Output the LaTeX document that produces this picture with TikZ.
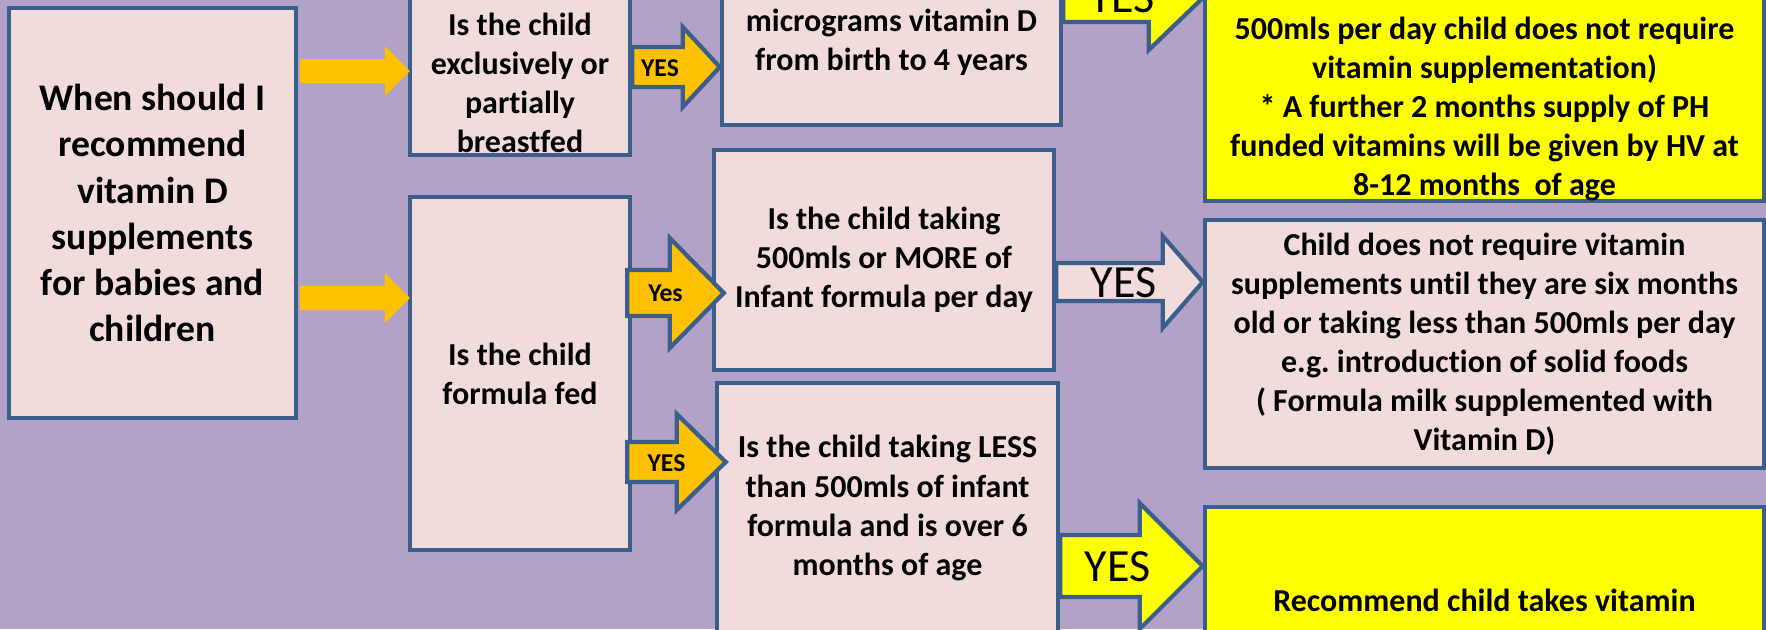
\documentclass[tikz,border=0pt]{standalone}
\usepackage{fontspec}
\setmainfont{Carlito}[Ligatures=NoCommon, Contextuals=NoAlternate]
\frenchspacing
\usetikzlibrary{calc}
\definecolor{bgpurple}{HTML}{B2A2C7}
\definecolor{boxpink}{HTML}{F2DCDB}
\definecolor{edgeblue}{HTML}{3B5E8A}
\definecolor{arroworange}{HTML}{FFC000}
\definecolor{arrowyellow}{HTML}{FFFF00}
\tikzset{
	box/.style={draw=edgeblue, line width=1.2pt, fill=boxpink, align=center, inner sep=0pt, font=\bfseries\fontsize{9.1}{11.1}\selectfont},
	yellowbox/.style={box, fill=arrowyellow},
	plainarrow/.style={fill=arroworange},
	orangearrow/.style={draw=edgeblue, line width=1.2pt, fill=arroworange},
	pinkarrow/.style={draw=edgeblue, line width=1.2pt, fill=boxpink},
	yellowarrow/.style={draw=edgeblue, line width=1.2pt, fill=arrowyellow},
	smallyes/.style={inner sep=0pt, font=\bfseries\fontsize{7.3}{8}\selectfont},
	bigyes/.style={inner sep=0pt, font=\fontsize{13.1}{14}\selectfont},
}
% #1 style, #2 from, #3 to, #4 shaft half, #5 head half, #6 head length
\newcommand{\fatarrow}[6]{%
	\path[#1] ($(#2)+(0,-#4)$) -- ($(#3)+(-#6,-#4)$) -- ($(#3)+(-#6,-#5)$) -- (#3) -- ($(#3)+(-#6,#5)$) -- ($(#3)+(-#6,#4)$) -- ($(#2)+(0,#4)$) -- cycle;}
\begin{document}
\begin{tikzpicture}[x=0.01cm, y=-0.01cm]
				\useasboundingbox (0,0) rectangle (1766,629);
				\fill[bgpurple] (0,0) rectangle (1766,629);
				\clip (0,0) rectangle (1766,629);
				\node[box, minimum width=2.87cm, minimum height=4.10cm, font=\bfseries\fontsize{10.7}{13.1}\selectfont] (A)at(152.5, 213) {When should I\\recommend\\vitamin D\\supplements\\for babies and\\children};
				\node[box, minimum width=2.20cm, minimum height=1.89cm] (B)at(520, 60.5) {\strut\\Is the child\\exclusively or\\partially\\breastfed};
				\node[box, minimum width=2.20cm, minimum height=3.53cm] (C)at(520, 373.5) {Is the child\\formula fed};
				\node[box, minimum width=3.39cm, minimum height=1.65cm] (D)at(891.5, 42.5) {micrograms vitamin D\\from birth to 4 years};
				\node[box, minimum width=3.40cm, minimum height=2.20cm] (F)at(884, 260) {Is the child taking\\500mls or MORE of\\Infant formula per day};
				\node[box, minimum width=3.41cm, minimum height=2.50cm] (H)at(887.5, 508) {Is the child taking LESS\\than 500mls of infant\\formula and is over 6\\months of age};
				\node[yellowbox, minimum width=5.59cm, minimum height=2.18cm] (E)at(1484.5, 87) {\strut\\500mls per day child does not require\\vitamin supplementation)\\* A further 2 months supply of PH\\funded vitamins will be given by HV at\\8-12 months~ of age};
				\node[box, minimum width=5.59cm, minimum height=2.48cm] (G)at(1484.5, 344) {Child does not require vitamin\\supplements until they are six months\\old or taking less than 500mls per day\\e.g. introduction of solid foods\\( Formula milk supplemented with\\Vitamin D)};
				\node[yellowbox, minimum width=5.59cm, minimum height=1.86cm] (I)at(1484.5, 600) {Recommend child takes vitamin};
				\coordinate (ab1) at ($(A.east |- 0,71)+(2,0)$);
				\coordinate (ab2) at ($(B.west |- 0,71)+(2,0)$);
				\coordinate (ac1) at ($(A.east |- 0,298)+(2,0)$);
				\coordinate (ac2) at ($(C.west |- 0,298)+(2,0)$);
				\coordinate (bd1) at (B.east |- 0,67);
				\coordinate (bd2) at (D.west |- 0,67);
				\coordinate (cf1) at ($(C.east |- 0,293)+(-5,0)$);
				\coordinate (cf2) at ($(F.west |- 0,293)+(12,0)$);
				\coordinate (ch1) at ($(C.east |- 0,462)+(-5,0)$);
				\coordinate (ch2) at ($(H.west |- 0,462)+(11,0)$);
				\coordinate (de1) at (D.east |- 0,-2);
				\coordinate (de2) at (E.west |- 0,-2);
				\coordinate (fg1) at (F.east |- 0,282);
				\coordinate (fg2) at (G.west |- 0,282);
				\coordinate (hi1) at (H.east |- 0,566);
				\coordinate (hi2) at (I.west |- 0,566);
				\fatarrow{plainarrow}{ab1}{ab2}{12}{25}{25}
				\fatarrow{plainarrow}{ac1}{ac2}{12}{25}{25}
				\fatarrow{orangearrow}{bd1}{bd2}{20}{40}{37}
				\fatarrow{orangearrow}{cf1}{cf2}{23}{55}{54}
				\fatarrow{orangearrow}{ch1}{ch2}{20}{48}{49}
				\fatarrow{yellowarrow}{de1}{de2}{24}{52}{54}
				\fatarrow{pinkarrow}{fg1}{fg2}{19}{46}{40}
				\fatarrow{yellowarrow}{hi1}{hi2}{31}{63}{63}
				\node[smallyes] (lblBD) at ($(bd1)!0.5!(bd2)+(-16,1)$) {YES};
				\node[smallyes] (lblCF) at ($(cf1)!0.5!(cf2)+(-10,0)$) {Yes};
				\node[smallyes] (lblCH) at ($(ch1)!0.5!(ch2)+(-10,1)$) {YES};
				\node[bigyes] (lblDE) at ($(de1)!0.5!(de2)+(-11,0)$) {YES};
				\node[bigyes] (lblFG) at ($(fg1)!0.5!(fg2)+(-6,1)$) {YES};
				\node[bigyes] (lblHI) at ($(hi1)!0.5!(hi2)+(-14,1)$) {YES};
			\end{tikzpicture}
\end{document}
